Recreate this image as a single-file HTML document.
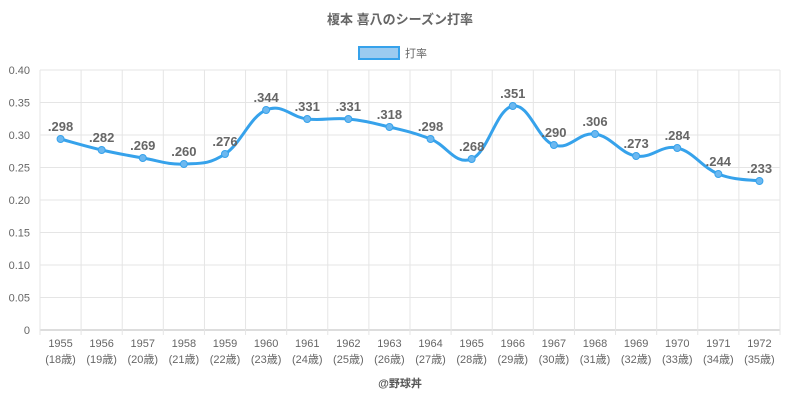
<!DOCTYPE html>
<html><head><meta charset="utf-8"><style>
body{margin:0;background:#fff;}
svg text{font-family:"Liberation Sans","Noto Sans CJK JP",sans-serif;}
</style></head><body>
<svg id="c" width="800" height="400" xmlns="http://www.w3.org/2000/svg">
<rect width="800" height="400" fill="#fff"/>
<text x="400" y="24" text-anchor="middle" font-size="13" font-weight="bold" fill="#666">榎本 喜八のシーズン打率</text>
<rect x="359" y="47" width="40" height="12" fill="#9ccbf0" stroke="#36a2eb" stroke-width="2"/>
<text x="405" y="57" font-size="11" fill="#666">打率</text>
<g id="grid"></g>
<path id="line" fill="none" stroke="#36a2eb" stroke-width="3"/>
<g id="pts"></g>
<text x="400" y="387" text-anchor="middle" font-size="11" font-weight="bold" fill="#555">@野球丼</text>
</svg>
<script>
var ns="http://www.w3.org/2000/svg";
function el(t,a,p,txt){var e=document.createElementNS(ns,t);for(var k in a)e.setAttribute(k,a[k]);if(txt)e.textContent=txt;p.appendChild(e);return e;}
var g=document.getElementById('grid');
var L=40,R=780,T=70,B=330;
for(var i=0;i<=8;i++){var y=B-i*32.5;el('line',{x1:L,x2:R,y1:y,y2:y,stroke:i==0?'#bbb':'#e5e5e5'},g);
el('text',{x:30,y:y+4,'text-anchor':'end','font-size':11,fill:'#666'},g,i==0?'0':(i*0.05).toFixed(2));}
var n=18,w=(R-L)/n;
for(var i=0;i<=n;i++){var x=L+i*w;el('line',{x1:x,x2:x,y1:T,y2:B+5,stroke:'#e5e5e5'},g);}
var vals=['.298','.282','.269','.260','.276','.344','.331','.331','.318','.298','.268','.351','.290','.306','.273','.284','.244','.233'];
var ys=[139,150,158,164,154,110,119,119,127,139,159,106,145,134,156,148,174,181];
var P=[];
for(var i=0;i<n;i++){var x=L+w*(i+0.5);P.push([x,ys[i]]);
el('text',{x:x,y:347,'text-anchor':'middle','font-size':11,fill:'#666'},g,String(1955+i));
el('text',{x:x,y:363,'text-anchor':'middle','font-size':11,fill:'#666'},g,'('+(18+i)+'歳)');}
var d='M'+P[0][0]+','+P[0][1];
for(var i=0;i<n-1;i++){var p0=P[Math.max(i-1,0)],p1=P[i],p2=P[i+1],p3=P[Math.min(i+2,n-1)];var t=0.4/2;
d+=' C'+(p1[0]+(p2[0]-p0[0])*t/1)+','+(p1[1]+(p2[1]-p0[1])*t)+' '+(p2[0]-(p3[0]-p1[0])*t)+','+(p2[1]-(p3[1]-p1[1])*t)+' '+p2[0]+','+p2[1];}
document.getElementById('line').setAttribute('d',d);
var pt=document.getElementById('pts');
for(var i=0;i<n;i++){el('circle',{cx:P[i][0],cy:P[i][1],r:3.5,fill:'#6cb8f0',stroke:'#36a2eb','stroke-width':1},pt);
el('text',{x:P[i][0],y:P[i][1]-8,'text-anchor':'middle','font-size':13,'font-weight':'bold',fill:'#666'},pt,vals[i]);}
</script>
</body></html>
